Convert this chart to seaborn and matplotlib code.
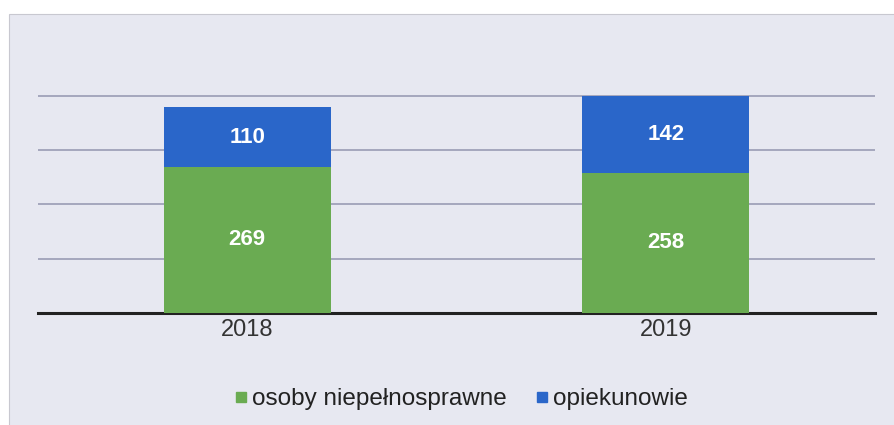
import pandas as pd
import matplotlib.pyplot as plt
import matplotlib.patches as mpatches
from matplotlib.lines import Line2D
import seaborn as sns

# dane z wykresu
lata = ['2018', '2019']
osoby_niepelnosprawne = [269, 258]
opiekunowie = [110, 142]

kolor_zielony = '#6aab52'
kolor_niebieski = '#2a66c9'
tlo = '#e7e8f1'

df = pd.DataFrame({'rok': lata,
                   'niepelnosprawne': osoby_niepelnosprawne,
                   'opiekunowie': opiekunowie})
df['razem'] = df['niepelnosprawne'] + df['opiekunowie']

sns.set_style('white')
plt.rcParams['font.family'] = ['Liberation Sans', 'DejaVu Sans']

fig = plt.figure(figsize=(8.94, 4.25), dpi=100)
fig.patch.set_facecolor('white')
# tlo wykresu (szary prostokat)
fig.add_artist(mpatches.Rectangle((9 / 894, -0.01), 1, 1 - 14 / 425 + 0.01, transform=fig.transFigure,
                                  facecolor=tlo, edgecolor='#c8c8d0', linewidth=0.8, zorder=-10))

ax = fig.add_axes([38 / 894, 112 / 425, 837 / 894, 271.5 / 425])
ax.set_facecolor('none')

# slupki skumulowane: najpierw suma (niebieski), potem zielony na wierzchu
sns.barplot(data=df, x='rok', y='razem', color=kolor_niebieski, width=0.4, ax=ax,
            saturation=1, linewidth=0, zorder=2)
sns.barplot(data=df, x='rok', y='niepelnosprawne', color=kolor_zielony, width=0.4, ax=ax,
            saturation=1, linewidth=0, zorder=3)

# etykiety wartosci
for bar, v, n in zip(ax.containers[0], opiekunowie, osoby_niepelnosprawne):
    ax.text(bar.get_x() + bar.get_width() / 2, n + v / 2, str(v), ha='center', va='center',
            color='white', fontsize=16, fontweight='bold', zorder=5)
for bar, n in zip(ax.containers[1], osoby_niepelnosprawne):
    ax.text(bar.get_x() + bar.get_width() / 2, n / 2, str(n), ha='center', va='center',
            color='white', fontsize=16, fontweight='bold', zorder=5)

ax.set_xlim(-0.5, 1.5)
ax.set_ylim(0, 500)
ax.set_yticks([100, 200, 300, 400])
ax.yaxis.grid(True, color='#9a9cb4', linewidth=1.2)
ax.set_axisbelow(True)
ax.tick_params(axis='y', left=False, labelleft=False)
ax.tick_params(axis='x', bottom=False, labelsize=17, colors='#333333', pad=1)
ax.set_xlabel('')
ax.set_ylabel('')
for s in ['top', 'right', 'left']:
    ax.spines[s].set_visible(False)
ax.spines['bottom'].set_color('#222222')
ax.spines['bottom'].set_linewidth(2.2)

uchwyty = [Line2D([], [], marker='s', linestyle='', color=kolor_zielony, markersize=7),
           Line2D([], [], marker='s', linestyle='', color=kolor_niebieski, markersize=7)]
fig.legend(uchwyty, ['osoby niepełnosprawne', 'opiekunowie'], loc='center',
           bbox_to_anchor=(461 / 894, 1 - 399 / 425), ncol=2, frameon=False, fontsize=17.5,
           handlelength=0.5, handletextpad=0.2, columnspacing=1.2, labelcolor='#222222',
           borderpad=0)

plt.savefig('out.png', dpi=100)
